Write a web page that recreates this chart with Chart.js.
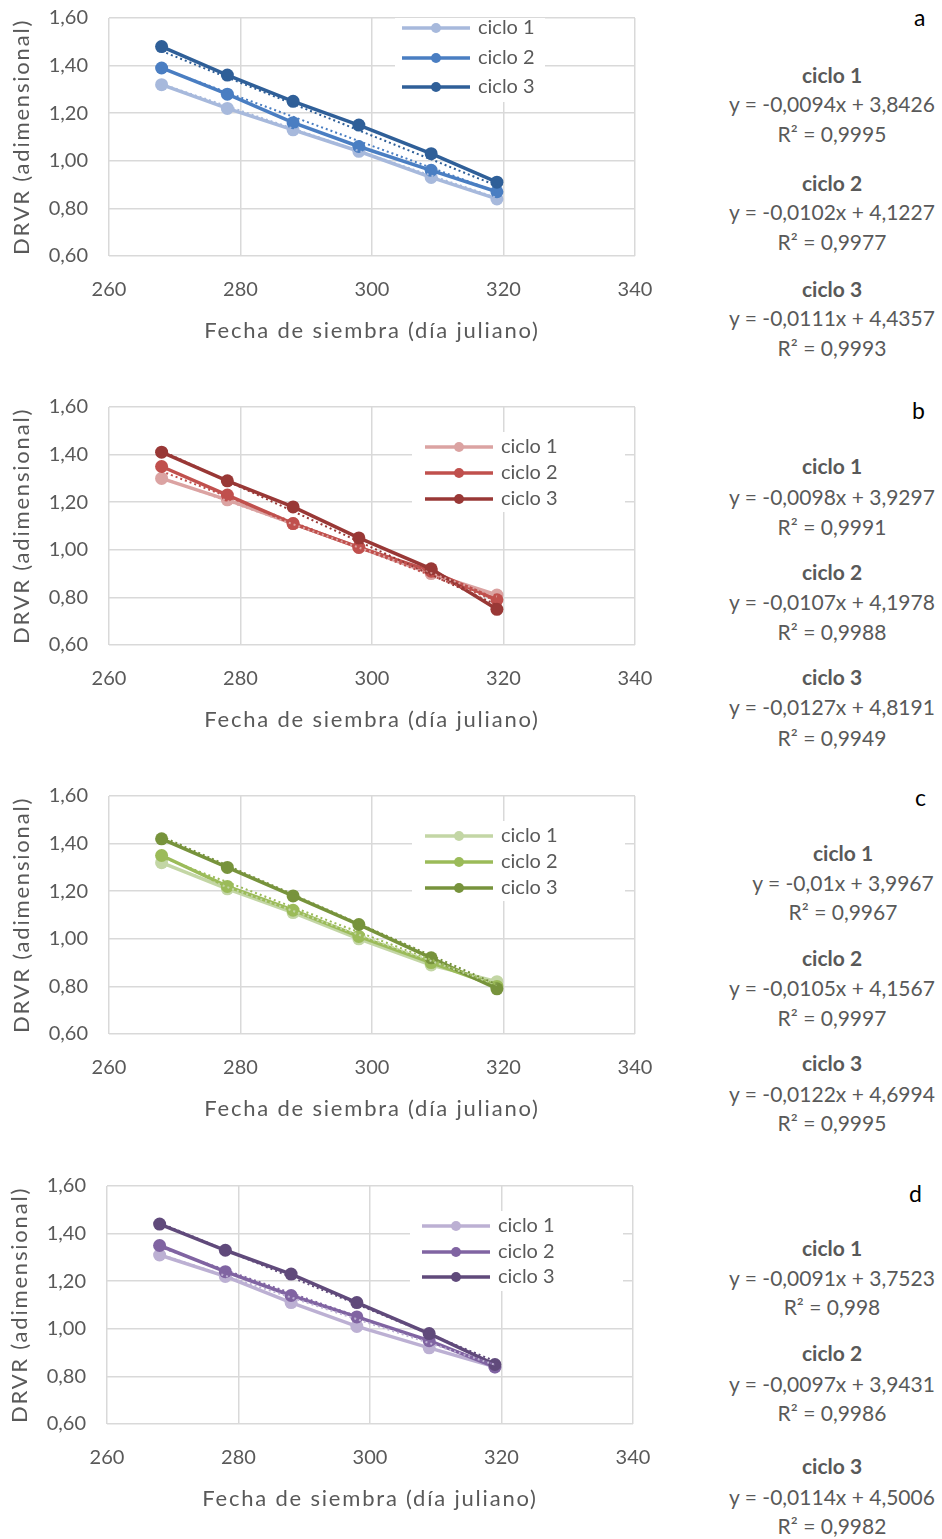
<!DOCTYPE html>
<html>
<head>
<meta charset="utf-8">
<script src="https://cdn.jsdelivr.net/npm/chart.js@4.4.1/dist/chart.umd.min.js"></script>
<style>
  body { margin: 0; background: #fff; width: 942px; height: 1539px; position: relative; overflow: hidden; font-family: Lato, sans-serif; }
  .panel { position: absolute; left: 0; width: 680px; height: 360px; }
  .txt { position: absolute; white-space: nowrap; transform: translateX(-50%); color: #595959; font-size: 21px; line-height: 24px; }
  .txt.bold { font-weight: bold; }
  .letra { position: absolute; color: #000; font-size: 23px; line-height: 24px; }
</style>
</head>
<body>
<canvas id="chartA" class="panel" width="680" height="360" style="top:0px"></canvas>
<canvas id="chartB" class="panel" width="680" height="360" style="top:389px"></canvas>
<canvas id="chartC" class="panel" width="680" height="360" style="top:778px"></canvas>
<canvas id="chartD" class="panel" width="680" height="360" style="top:1168px;left:-2px"></canvas>
<script>
// fechas de siembra (dia juliano)
const fechas = [268, 278, 288, 298, 309, 319];
const ciclos = ['ciclo 1', 'ciclo 2', 'ciclo 3'];
const xTickLabels = ['260', '280', '300', '320', '340'];
const yTickLabels = ['0,60', '0,80', '1,00', '1,20', '1,40', '1,60'];

// DRVR por panel y ciclo
const a1 = [1.32, 1.22, 1.13, 1.04, 0.93, 0.84];
const a2 = [1.39, 1.28, 1.16, 1.06, 0.96, 0.87];
const a3 = [1.48, 1.36, 1.25, 1.15, 1.03, 0.91];

const b1 = [1.30, 1.21, 1.11, 1.01, 0.90, 0.81];
const b2 = [1.35, 1.23, 1.11, 1.01, 0.91, 0.79];
const b3 = [1.41, 1.29, 1.18, 1.05, 0.92, 0.75];

const c1 = [1.32, 1.21, 1.11, 1.00, 0.89, 0.82];
const c2 = [1.35, 1.22, 1.12, 1.01, 0.90, 0.80];
const c3 = [1.42, 1.30, 1.18, 1.06, 0.92, 0.79];

const d1 = [1.31, 1.22, 1.11, 1.01, 0.92, 0.84];
const d2 = [1.35, 1.24, 1.14, 1.05, 0.95, 0.84];
const d3 = [1.44, 1.33, 1.23, 1.11, 0.98, 0.85];

// lineas de tendencia: valor en el primer y ultimo dia
const trendX = [268, 319];
const trendA = [[1.323, 0.844], [1.389, 0.869], [1.461, 0.895]];
const trendB = [[1.303, 0.804], [1.330, 0.785], [1.416, 0.768]];
const trendC = [[1.317, 0.807], [1.343, 0.807], [1.430, 0.808]];
const trendD = [[1.314, 0.849], [1.344, 0.849], [1.445, 0.864]];

// ecuaciones
const eqA = ['y = -0,0094x + 3,8426', 'y = -0,0102x + 4,1227', 'y = -0,0111x + 4,4357'];
const r2A = ['R² = 0,9995', 'R² = 0,9977', 'R² = 0,9993'];
const eqB = ['y = -0,0098x + 3,9297', 'y = -0,0107x + 4,1978', 'y = -0,0127x + 4,8191'];
const r2B = ['R² = 0,9991', 'R² = 0,9988', 'R² = 0,9949'];
const eqC = ['y = -0,01x + 3,9967', 'y = -0,0105x + 4,1567', 'y = -0,0122x + 4,6994'];
const r2C = ['R² = 0,9967', 'R² = 0,9997', 'R² = 0,9995'];
const eqD = ['y = -0,0091x + 3,7523', 'y = -0,0097x + 3,9431', 'y = -0,0114x + 4,5006'];
const r2D = ['R² = 0,998', 'R² = 0,9986', 'R² = 0,9982'];

const colorsA = ['#a7b9dc', '#4a7ec2', '#2f5f98'];
const colorsB = ['#dba3a2', '#c0504d', '#993836'];
const colorsC = ['#c3d6a5', '#9bbb59', '#77933c'];
const colorsD = ['#bcb0d3', '#8064a2', '#604a7b'];

const grey = '#595959';
Chart.defaults.font.family = 'Lato, sans-serif';

// leyenda dibujada dentro del area del grafico
const insideLegend = {
    id: 'insideLegend',
    afterDatasetsDraw(chart, args, opts) {
        const { ctx, chartArea } = chart;
        const L = chartArea.left, T = chartArea.top;
        ctx.save();
        ctx.fillStyle = '#fff';
        ctx.fillRect(L + opts.box[0], T + opts.box[1], opts.box[2], opts.box[3]);
        chart.data.datasets.filter(ds => !ds.isTrend).forEach((ds, i) => {
            const y = T + opts.rows[i];
            const x0 = L + opts.x;
            ctx.strokeStyle = ds.borderColor;
            ctx.lineWidth = 3.5;
            ctx.beginPath();
            ctx.moveTo(x0, y);
            ctx.lineTo(x0 + 68, y);
            ctx.stroke();
            ctx.fillStyle = ds.borderColor;
            ctx.beginPath();
            ctx.arc(x0 + 34, y, 5, 0, Math.PI * 2);
            ctx.fill();
            ctx.fillStyle = grey;
            ctx.font = '20px Lato, sans-serif';
            ctx.textBaseline = 'middle';
            ctx.fillText(ds.label, x0 + 76, y);
        });
        ctx.restore();
    }
};

// titulos de eje con letras espaciadas, como en el original
function spacedTitle(s) {
    if (s._spaced) return;
    const orig = s.drawTitle.bind(s);
    s.drawTitle = function () {
        this.ctx.save();
        this.ctx.letterSpacing = '1.8px';
        orig();
        this.ctx.restore();
    };
    s._spaced = true;
}

function buildChart(id, series, trends, colors, legendOpts) {
    const datasets = [];
    series.forEach((vals, i) => {
        datasets.push({
            label: ciclos[i],
            data: fechas.map((f, j) => ({ x: f, y: vals[j] })),
            showLine: true,
            borderColor: colors[i],
            backgroundColor: colors[i],
            borderWidth: 3.5,
            pointRadius: 6.5,
            pointBorderWidth: 0,
            order: 6 - i
        });
    });
    trends.forEach((t, i) => {
        datasets.push({
            label: 'tendencia ' + ciclos[i],
            isTrend: true,
            data: trendX.map((f, j) => ({ x: f, y: t[j] })),
            showLine: true,
            borderColor: colors[i],
            borderWidth: 2,
            borderDash: [2, 3],
            pointRadius: 0,
            order: 3 - i
        });
    });

    new Chart(document.getElementById(id), {
        type: 'scatter',
        data: { datasets },
        plugins: [insideLegend],
        options: {
            responsive: false,
            animation: false,
            layout: { padding: { top: 18, right: 45, left: 0, bottom: 0 } },
            plugins: {
                legend: { display: false },
                tooltip: { enabled: false },
                insideLegend: legendOpts
            },
            scales: {
                x: {
                    type: 'linear',
                    min: 260, max: 340,
                    afterFit: s => { s.height = 104; spacedTitle(s); },
                    ticks: {
                        stepSize: 20, color: grey, font: { size: 20 }, padding: 22,
                        callback: (v, i) => xTickLabels[i]
                    },
                    grid: { color: '#d9d9d9', lineWidth: 1.5, drawTicks: false },
                    border: { display: false },
                    title: {
                        display: true, text: 'Fecha de siembra (día juliano)',
                        color: grey, font: { size: 22 }, padding: { top: 0, bottom: 16 }
                    }
                },
                y: {
                    min: 0.6, max: 1.6,
                    afterFit: s => {
                        s.width = 109;
                        s.paddingTop = 12;
                        s.paddingBottom = 12;
                        spacedTitle(s);
                    },
                    ticks: {
                        stepSize: 0.2, color: grey, font: { size: 20 }, padding: 21,
                        callback: (v, i) => yTickLabels[i]
                    },
                    grid: { color: '#d9d9d9', lineWidth: 1.5, drawTicks: false },
                    border: { display: false },
                    title: {
                        display: true, text: 'DRVR (adimensional)',
                        color: grey, font: { size: 22 }, padding: { top: 9, bottom: 0 }
                    }
                }
            }
        }
    });
}

const legendWide = { x: 316, rows: [40, 66, 92], box: [303, 25, 213, 80] };
buildChart('chartA', [a1, a2, a3], trendA, colorsA, { x: 293, rows: [10, 40, 69], box: [286, 0, 150, 84] });
buildChart('chartB', [b1, b2, b3], trendB, colorsB, legendWide);
buildChart('chartC', [c1, c2, c3], trendC, colorsC, legendWide);
buildChart('chartD', [d1, d2, d3], trendD, colorsD, { x: 315, rows: [40, 66, 91], box: [303, 25, 213, 80] });

// texto de ecuaciones a la derecha
function addText(text, cx, cy, cls) {
    const el = document.createElement('div');
    el.className = cls;
    el.textContent = text;
    el.style.left = cx + 'px';
    el.style.top = (cy - 12) + 'px';
    document.body.appendChild(el);
}

function addBlock(letter, letterPos, eqs, r2s, rows, centers) {
    const l = document.createElement('div');
    l.className = 'letra';
    l.textContent = letter;
    l.style.left = (letterPos[0] - 6) + 'px';
    l.style.top = (letterPos[1] - 12) + 'px';
    document.body.appendChild(l);
    for (let i = 0; i < 3; i++) {
        const cx = centers[i];
        addText(ciclos[i], cx, rows[i][0], 'txt bold');
        addText(eqs[i], cx, rows[i][1], 'txt');
        addText(r2s[i], cx, rows[i][2], 'txt');
    }
}

addBlock('a', [920, 17], eqA, r2A, [[75, 104, 134], [183, 212, 242], [289, 318, 348]], [832, 832, 832]);
addBlock('b', [918, 410], eqB, r2B, [[466, 497, 527], [572, 602, 632], [677, 707, 738]], [832, 832, 832]);
addBlock('c', [921, 797], eqC, r2C, [[853, 883, 912], [958, 988, 1018], [1063, 1094, 1123]], [843, 832, 832]);
addBlock('d', [915, 1193], eqD, r2D, [[1248, 1278, 1307], [1353, 1384, 1413], [1466, 1497, 1526]], [832, 832, 832]);
</script>
</body>
</html>
